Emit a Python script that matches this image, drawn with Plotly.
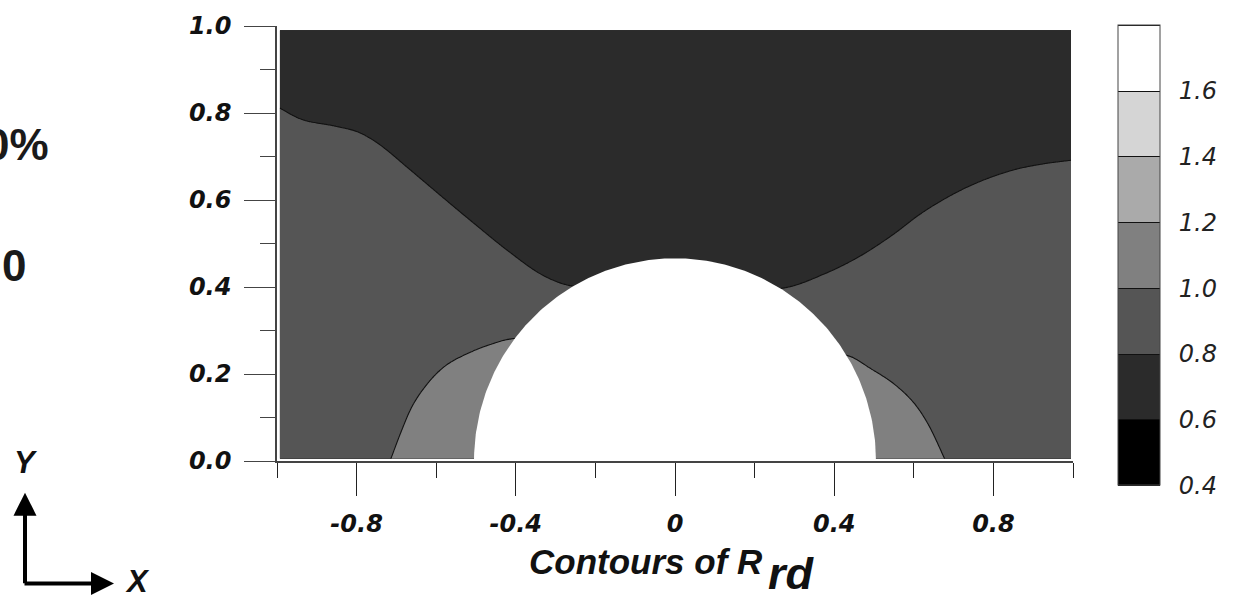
import numpy as np
import plotly.graph_objects as go

# ---- data ----
# boundary of the R_rd = 0.8 contour (x, y)
a_x = [-1.0, -0.94, -0.855, -0.796, -0.746, -0.67, -0.586, -0.502, -0.418, -0.334, -0.263,
       0.275, 0.38, 0.463, 0.547, 0.615, 0.682, 0.757, 0.85, 0.925, 1.0]
a_y = [0.815, 0.786, 0.770, 0.756, 0.730, 0.673, 0.608, 0.544, 0.482, 0.428, 0.403,
       0.398, 0.432, 0.470, 0.520, 0.567, 0.605, 0.639, 0.669, 0.683, 0.692]
# boundary of the R_rd = 1.0 contour (x, y)
b_x = [-0.716, -0.687, -0.662, -0.620, -0.578, -0.519, -0.460, -0.410,
       0.438, 0.489, 0.556, 0.606, 0.640, 0.680]
b_y = [0.0, 0.070, 0.123, 0.180, 0.218, 0.248, 0.269, 0.281,
       0.241, 0.214, 0.173, 0.127, 0.078, 0.0]
# particle (semi-ellipse) half widths in data units
particle_rx = 0.505
particle_ry = 0.466

level_start, level_end, level_step = 0.4, 1.8, 0.2
band_colors = ["#000000", "#2b2b2b", "#555555", "#808080", "#aaaaaa", "#d5d5d5", "#ffffff"]
band_breaks = [0.20, 0.35, 0.50, 0.65, 0.80, 0.96]
cbar_tickvals = [0.4, 0.6, 0.8, 1.0, 1.2, 1.4, 1.6]
x_tickvals = [-0.8, -0.4, 0, 0.4, 0.8]
x_ticktext = ["-0.8", "-0.4", "0", "0.4", "0.8"]
x_minor = [-1.0, -0.6, -0.2, 0.2, 0.6, 1.0]
y_tickvals = [0.0, 0.2, 0.4, 0.6, 0.8, 1.0]
y_ticktext = ["0.0", "0.2", "0.4", "0.6", "0.8", "1.0"]
y_minor = [0.1, 0.3, 0.5, 0.7, 0.9]


def hermite(xs, ys, xq):
    """smooth cubic Hermite curve through the read points"""
    xs = np.asarray(xs, float)
    ys = np.asarray(ys, float)
    d = np.diff(ys) / np.diff(xs)
    m = np.empty_like(ys)
    m[0], m[-1] = d[0], d[-1]
    m[1:-1] = 0.5 * (d[:-1] + d[1:])
    idx = np.clip(np.searchsorted(xs, xq) - 1, 0, len(xs) - 2)
    h = xs[idx + 1] - xs[idx]
    t = np.clip((xq - xs[idx]) / h, 0, 1)
    h00 = 2 * t**3 - 3 * t**2 + 1
    h10 = t**3 - 2 * t**2 + t
    h01 = -2 * t**3 + 3 * t**2
    h11 = t**3 - t**2
    return h00 * ys[idx] + h10 * h * m[idx] + h01 * ys[idx + 1] + h11 * h * m[idx + 1]


# ---- build the field from the read boundaries ----
xg = np.linspace(-0.993, 0.995, 480)
yg = np.linspace(0.005, 0.99, 240)
YA = hermite(a_x, a_y, xg)
YB = hermite(b_x, b_y, xg)
left_slope = (b_y[1] - b_y[0]) / (b_x[1] - b_x[0])
right_slope = (b_y[-2] - b_y[-1]) / (b_x[-1] - b_x[-2])
YB = np.where(xg < b_x[0], -(b_x[0] - xg) * left_slope, YB)
YB = np.where(xg > b_x[-1], -(xg - b_x[-1]) * right_slope, YB)
X, Y = np.meshgrid(xg, yg)
w = 0.05
Z = (0.7 + 0.1 * np.clip(1 + (YA[None, :] - Y) / w, 0, 2)
     + 0.1 * np.clip(1 + (YB[None, :] - Y) / w, 0, 2))
Z = np.round(Z, 4)

# stepped grey colour scale, one colour per band
edges = [0.0] + band_breaks + [1.0]
cs = []
for k, c in enumerate(band_colors):
    cs.append([edges[k], c])
    cs.append([edges[k + 1], c])

# plot area in pixels
L, R, T, B = 277, 1073, 21, 461
W, H = 1259, 603
pw, ph = R - L, B - T
def px(x):
    return (x - L) / pw
def py(y):
    return (B - y) / ph

fig = go.Figure()
fig.add_trace(go.Contour(
    x=xg, y=yg, z=Z,
    autocontour=False,
    zmin=level_start, zmax=level_end,
    contours=dict(start=level_start, end=level_end, size=level_step,
                  coloring="fill", showlines=True),
    line=dict(color="#111111", width=1.1, smoothing=1.0),
    colorscale=cs,
    hoverinfo="skip",
    colorbar=dict(
        x=px(1118), xanchor="left", xpad=0,
        y=py(253), yanchor="middle", ypad=0,
        len=460, lenmode="pixels", thickness=42,
        outlinecolor="#444444", outlinewidth=1,
        tickvals=cbar_tickvals,
        ticktext=[f"{v:.1f}" for v in cbar_tickvals],
        ticks="outside", ticklen=14, tickcolor="rgba(0,0,0,0)",
        tickfont=dict(family="DejaVu Sans", size=24, style="italic", color="#222222"),
    ),
))

t = np.linspace(0, np.pi, 241)
fig.add_trace(go.Scatter(
    x=particle_rx * np.cos(t), y=particle_ry * np.sin(t),
    mode="lines", fill="toself", fillcolor="#ffffff",
    line=dict(width=0, color="#ffffff"), hoverinfo="skip", showlegend=False,
))

tickfont = dict(family="DejaVu Sans", size=24, weight="bold", style="italic", color="#111111")
fig.update_xaxes(
    range=[-1, 1], showgrid=False, zeroline=False,
    showline=True, linecolor="#444444", linewidth=1.5,
    ticks="outside", ticklen=33, tickwidth=1.2, tickcolor="#222222",
    tickvals=x_tickvals, ticktext=x_ticktext, tickfont=tickfont,
    ticklabelstandoff=7,
    minor=dict(tickvals=x_minor, ticks="outside", ticklen=15, tickwidth=1.2, tickcolor="#222222"),
)
fig.update_yaxes(
    range=[0, 1], showgrid=False, zeroline=False,
    showline=True, linecolor="#444444", linewidth=1.5,
    ticks="outside", ticklen=31, tickwidth=1.2, tickcolor="#444444",
    tickvals=y_tickvals, ticktext=y_ticktext, tickfont=tickfont,
    ticklabelstandoff=8,
    minor=dict(tickvals=y_minor, ticks="outside", ticklen=15, tickwidth=1.2, tickcolor="#444444"),
)

bi = dict(family="Liberation Sans", weight="bold", style="italic", color="#111111")
annotations = [
    dict(text="Contours of R", x=px(646), y=py(563), xref="paper", yref="paper",
         xanchor="center", yanchor="middle", showarrow=False, font=dict(size=35, **bi)),
    dict(text="rd", x=px(766), y=py(603), xref="paper", yref="paper",
         xanchor="left", yanchor="bottom", showarrow=False, font=dict(size=45, **bi)),
    dict(text="0%", x=px(51), y=py(141), xref="paper", yref="paper",
         xanchor="right", yanchor="middle", showarrow=False,
         font=dict(family="Liberation Sans", size=44, weight="bold", color="#1a1a1a")),
    dict(text="0", x=px(0), y=py(263), xref="paper", yref="paper",
         xanchor="left", yanchor="middle", showarrow=False,
         font=dict(family="Liberation Sans", size=44, weight="bold", color="#1a1a1a")),
    dict(text="Y", x=px(26), y=py(463), xref="paper", yref="paper",
         xanchor="center", yanchor="middle", showarrow=False, font=dict(size=31, **bi)),
    dict(text="X", x=px(137), y=py(603), xref="paper", yref="paper",
         xanchor="center", yanchor="bottom", showarrow=False, font=dict(size=31, **bi)),
    dict(text="", x=px(25), y=py(493), xref="paper", yref="paper",
         showarrow=True, ax=0, ay=92, arrowhead=2, arrowsize=1.15, arrowwidth=4,
         arrowcolor="#000000", standoff=0),
    dict(text="", x=px(114), y=py(585), xref="paper", yref="paper",
         showarrow=True, ax=-91, ay=0, arrowhead=2, arrowsize=1.15, arrowwidth=4,
         arrowcolor="#000000", standoff=0),
]

fig.update_layout(
    width=W, height=H,
    margin=dict(l=L, r=W - R, t=T, b=H - B),
    paper_bgcolor="#ffffff", plot_bgcolor="#ffffff",
    showlegend=False,
    annotations=annotations,
)

fig.write_html("out.html")
